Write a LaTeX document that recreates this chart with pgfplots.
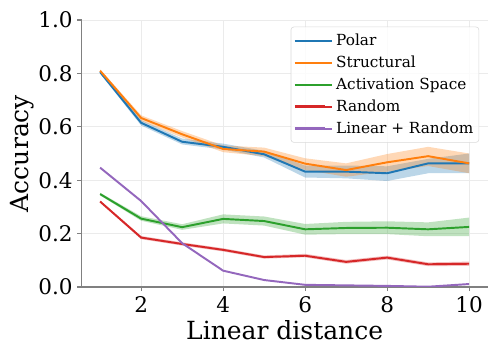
\documentclass[border=0pt]{standalone}
\usepackage{fontspec}
\setmainfont{DejaVu Serif}
\usepackage{pgfplots}
\pgfplotsset{compat=1.18}
\usepackage{pgfplotstable}
\usepgfplotslibrary{fillbetween}

\definecolor{tabblue}{HTML}{1F77B4}
\definecolor{taborange}{HTML}{FF7F0E}
\definecolor{tabgreen}{HTML}{2CA02C}
\definecolor{tabred}{HTML}{D62728}
\definecolor{tabpurple}{HTML}{9467BD}

% x = linear distance, m = mean accuracy, lo/hi = shaded band
\pgfplotstableread{
x  m      lo     hi
1  0.805  0.800  0.810
2  0.615  0.605  0.625
3  0.544  0.534  0.556
4  0.525  0.515  0.537
5  0.497  0.485  0.510
6  0.432  0.410  0.455
7  0.432  0.407  0.455
8  0.426  0.397  0.452
9  0.463  0.426  0.480
10 0.463  0.426  0.500
}\polar
\pgfplotstableread{
x  m      lo     hi
1  0.810  0.805  0.815
2  0.633  0.622  0.643
3  0.572  0.560  0.584
4  0.517  0.505  0.530
5  0.507  0.490  0.522
6  0.462  0.438  0.482
7  0.438  0.413  0.463
8  0.467  0.432  0.498
9  0.490  0.453  0.525
10 0.463  0.426  0.500
}\structural
\pgfplotstableread{
x  m      lo     hi
1  0.348  0.343  0.353
2  0.256  0.248  0.265
3  0.224  0.214  0.235
4  0.255  0.238  0.272
5  0.247  0.230  0.264
6  0.216  0.196  0.236
7  0.221  0.198  0.244
8  0.222  0.198  0.246
9  0.216  0.190  0.242
10 0.225  0.190  0.260
}\activation
\pgfplotstableread{
x  m      lo     hi
1  0.320  0.316  0.324
2  0.185  0.179  0.191
3  0.161  0.155  0.167
4  0.139  0.133  0.145
5  0.112  0.106  0.118
6  0.117  0.111  0.124
7  0.094  0.087  0.101
8  0.110  0.103  0.117
9  0.085  0.078  0.092
10 0.087  0.079  0.095
}\random
\pgfplotstableread{
x  m
1  0.447
2  0.322
3  0.164
4  0.061
5  0.026
6  0.008
7  0.006
8  0.004
9  0.001
10 0.011
}\linrandom

\begin{document}
\begin{tikzpicture}
\begin{axis}[
  scale only axis,
  width=292.3pt, height=192.2pt,
  xmin=0.55, xmax=10.45,
  ymin=0, ymax=1,
  xtick={2,4,6,8,10},
  ytick={0,0.2,0.4,0.6,0.8,1.0},
  yticklabel style={/pgf/number format/.cd,fixed,fixed zerofill,precision=1},
  /pgf/number format/assume math mode=true,
  tick label style={font=\fontsize{15.5}{15.5}\selectfont},
  axis x line*=bottom, axis y line*=left,
  axis line style={gray, line width=0.8pt},
  tick align=outside, major tick length=3pt,
  tick style={gray, line width=0.8pt},
  grid=major,
  major grid style={line width=0.6pt, color=black!8},
  xlabel={Linear distance},
  ylabel={Accuracy},
  label style={font=\fontsize{18}{18}\selectfont},
  xlabel style={at={(axis description cs:0.5,-0.163)}, anchor=center},
  ylabel style={at={(axis description cs:-0.147,0.5)}, anchor=center},
  legend cell align=left,
  legend style={
    at={(0.979,0.975)}, anchor=north east,
    font=\fontsize{11}{13}\selectfont,
    draw=black!15, rounded corners=2pt,
    fill=white, fill opacity=0.8, text opacity=1,
    row sep=2pt, inner xsep=2pt, inner ysep=3pt,
  },
  legend image code/.code={\draw[#1, line width=1.6pt] (0pt,0pt) -- (22pt,0pt);
    \path (0pt,0pt) -- (27pt,0pt);},
  every axis plot/.append style={line width=1.4pt},
]
% bands first, under the lines
\addplot[name path=pu, draw=none, forget plot] table[x=x,y=hi]{\polar};
\addplot[name path=pl, draw=none, forget plot] table[x=x,y=lo]{\polar};
\addplot[tabblue, fill opacity=0.3, forget plot] fill between[of=pu and pl];
\addplot[name path=su, draw=none, forget plot] table[x=x,y=hi]{\structural};
\addplot[name path=sl, draw=none, forget plot] table[x=x,y=lo]{\structural};
\addplot[taborange, fill opacity=0.3, forget plot] fill between[of=su and sl];
\addplot[name path=au, draw=none, forget plot] table[x=x,y=hi]{\activation};
\addplot[name path=al, draw=none, forget plot] table[x=x,y=lo]{\activation};
\addplot[tabgreen, fill opacity=0.3, forget plot] fill between[of=au and al];
\addplot[name path=ru, draw=none, forget plot] table[x=x,y=hi]{\random};
\addplot[name path=rl, draw=none, forget plot] table[x=x,y=lo]{\random};
\addplot[tabred, fill opacity=0.3, forget plot] fill between[of=ru and rl];

\addplot[tabblue] table[x=x,y=m]{\polar};
\addlegendentry{Polar}
\addplot[taborange] table[x=x,y=m]{\structural};
\addlegendentry{Structural}
\addplot[tabgreen] table[x=x,y=m]{\activation};
\addlegendentry{Activation Space}
\addplot[tabred] table[x=x,y=m]{\random};
\addlegendentry{Random}
\addplot[tabpurple] table[x=x,y=m]{\linrandom};
\addlegendentry{Linear + Random}
\end{axis}
\pgfresetboundingbox
\path[use as bounding box] (current axis.south west) ++(-58.8pt,-49.7pt) rectangle ++(358.56pt,256.32pt);
\end{tikzpicture}
\end{document}
